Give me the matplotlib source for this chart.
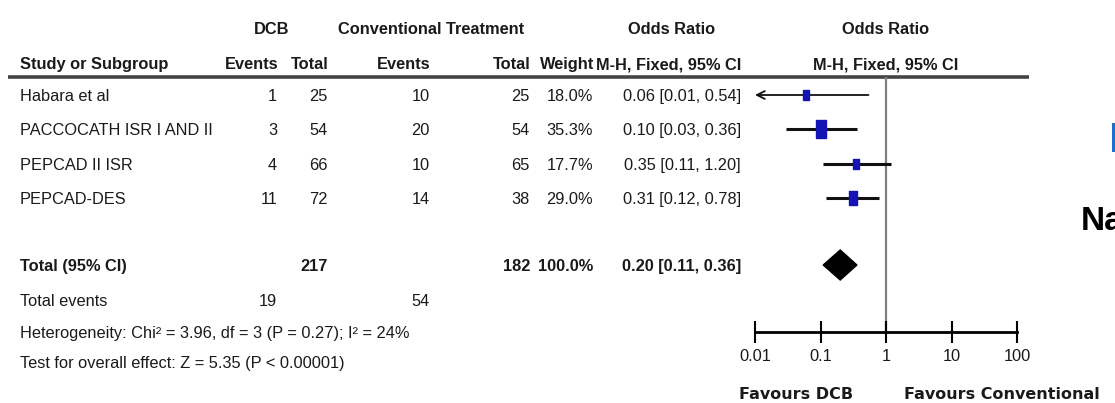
import matplotlib
matplotlib.use("Agg")
import matplotlib.pyplot as plt
from matplotlib.patches import Polygon, Rectangle
from matplotlib.ticker import NullLocator

# study data
studies = ["Habara et al", "PACCOCATH ISR I AND II", "PEPCAD II ISR", "PEPCAD-DES"]
dcb_events = [1, 3, 4, 11]
dcb_total = [25, 54, 66, 72]
conv_events = [10, 20, 10, 14]
conv_total = [25, 54, 65, 38]
weights = [18.0, 35.3, 17.7, 29.0]
odds = [0.06, 0.10, 0.35, 0.31]
ci_low = [0.01, 0.03, 0.11, 0.12]
ci_high = [0.54, 0.36, 1.20, 0.78]

# pooled result
pooled_or = 0.20
pooled_low = 0.11
pooled_high = 0.36
pooled_dcb_total = 217
pooled_conv_total = 182
pooled_dcb_events = 19
pooled_conv_events = 54
heterogeneity = "Heterogeneity: Chi\u00b2 = 3.96, df = 3 (P = 0.27); I\u00b2 = 24%"
overall = "Test for overall effect: Z = 5.35 (P < 0.00001)"

ticks = [0.01, 0.1, 1, 10, 100]
tick_labels = ["0.01", "0.1", "1", "10", "100"]

# layout in pixels
W, H = 1115, 403
row_y = [95, 129, 164, 198]
total_y = 265
events_y = 300
het_y = 332
test_y = 362
head1_y = 28
head2_y = 63
rule_y = 77
plot_x0, plot_x1 = 755, 1017

narrow = ["Liberation Sans", "DejaVu Sans"]
fs = 11.8
ink = "#1a1a1a"

fig = plt.figure(figsize=(W / 100, H / 100), dpi=100)
fig.patch.set_facecolor("white")

bg = fig.add_axes([0, 0, 1, 1])
bg.set_xlim(0, W)
bg.set_ylim(H, 0)
bg.axis("off")


def put(x, y, s, ha="left", bold=False, **kw):
    bg.text(x, y, s, ha=ha, va="center_baseline", fontsize=kw.pop("size", fs),
            family=kw.pop("family", narrow), weight="bold" if bold else "normal",
            color=kw.pop("color", ink), **kw)


# column headers
put(272, head1_y, "DCB", ha="center", bold=True)
put(431, head1_y, "Conventional Treatment", ha="center", bold=True)
put(672, head1_y, "Odds Ratio", ha="center", bold=True)
put(886, head1_y, "Odds Ratio", ha="center", bold=True)
put(20, head2_y, "Study or Subgroup", bold=True)
put(279, head2_y, "Events", ha="right", bold=True)
put(329, head2_y, "Total", ha="right", bold=True)
put(430, head2_y, "Events", ha="right", bold=True)
put(531, head2_y, "Total", ha="right", bold=True)
put(594, head2_y, "Weight", ha="right", bold=True)
put(741, head2_y, "M-H, Fixed, 95% CI", ha="right", bold=True)
put(886, head2_y, "M-H, Fixed, 95% CI", ha="center", bold=True)
bg.plot([8, 1029], [rule_y, rule_y], color="#444444", lw=2.6, solid_capstyle="butt")

# study rows
for i, y in enumerate(row_y):
    put(20, y, studies[i])
    put(277, y, str(dcb_events[i]), ha="right")
    put(328, y, str(dcb_total[i]), ha="right")
    put(430, y, str(conv_events[i]), ha="right")
    put(530, y, str(conv_total[i]), ha="right")
    put(593, y, f"{weights[i]:.1f}%", ha="right")
    put(741, y, f"{odds[i]:.2f} [{ci_low[i]:.2f}, {ci_high[i]:.2f}]", ha="right")

# totals and statistics
put(20, total_y, "Total (95% CI)", bold=True)
put(328, total_y, str(pooled_dcb_total), ha="right", bold=True)
put(530, total_y, str(pooled_conv_total), ha="right", bold=True)
put(593, total_y, f"{sum(weights):.1f}%", ha="right", bold=True)
put(741, total_y, f"{pooled_or:.2f} [{pooled_low:.2f}, {pooled_high:.2f}]", ha="right", bold=True)
put(20, events_y, "Total events")
put(277, events_y, str(pooled_dcb_events), ha="right")
put(430, events_y, str(pooled_conv_events), ha="right")
put(20, het_y, heterogeneity)
put(20, test_y, overall)

# forest panel on a log scale
ax = fig.add_axes([plot_x0 / W, 1 - het_y / H, (plot_x1 - plot_x0) / W, (het_y - rule_y) / H])
ax.set_xscale("log")
ax.set_xlim(0.01, 100)
ax.set_ylim(het_y, rule_y)
ax.patch.set_alpha(0)
for side in ["top", "left", "right"]:
    ax.spines[side].set_visible(False)
ax.spines["bottom"].set_linewidth(2)
ax.set_yticks([])
ax.set_xticks(ticks, tick_labels)
ax.xaxis.set_minor_locator(NullLocator())
ax.tick_params(axis="x", direction="inout", length=16, width=1.5, pad=4,
               labelsize=fs, labelcolor=ink)
for lab in ax.get_xticklabels():
    lab.set_family(narrow)

ax.axvline(1, color="#808080", lw=1.6, zorder=1)

for i, y in enumerate(row_y):
    lo = max(ci_low[i], 0.01)
    if i == 0:
        # interval runs past the left edge of the scale
        ax.annotate("", xy=(lo, y), xytext=(ci_high[i], y),
                    arrowprops=dict(arrowstyle="->", lw=1.3, color="#111111",
                                    shrinkA=0, shrinkB=0, mutation_scale=14))
    else:
        ax.plot([lo, ci_high[i]], [y, y], color="#111111", lw=2.2, zorder=2,
                clip_on=False, solid_capstyle="butt")
    ax.plot(odds[i], y, marker=[(-0.5, -0.9), (0.5, -0.9), (0.5, 0.9), (-0.5, 0.9), (-0.5, -0.9)],
            markersize=weights[i] * 0.37, color="#1414b4", mec="#1414b4", zorder=3,
            clip_on=False)

diamond = Polygon([(pooled_low, total_y), (pooled_or, total_y - 15),
                   (pooled_high, total_y), (pooled_or, total_y + 15)],
                  closed=True, facecolor="black", edgecolor="black", zorder=3)
ax.add_patch(diamond)

# direction labels
bg.text(853, 393, "Favours DCB", ha="right", va="center_baseline", fontsize=11.5,
        family="DejaVu Sans", weight="bold", color=ink)
bg.text(904, 393, "Favours Conventional", ha="left", va="center_baseline", fontsize=11.5,
        family="DejaVu Sans", weight="bold", color=ink)

# fragments at the right edge
bg.text(1081, 218, "Na", ha="left", va="center_baseline", fontsize=24,
        family="Liberation Sans", weight="bold", color="black")
bg.add_patch(Rectangle((1112, 123), 4, 29, facecolor="#1a6fcf", edgecolor="none"))

fig.savefig("out.png", dpi=100)
